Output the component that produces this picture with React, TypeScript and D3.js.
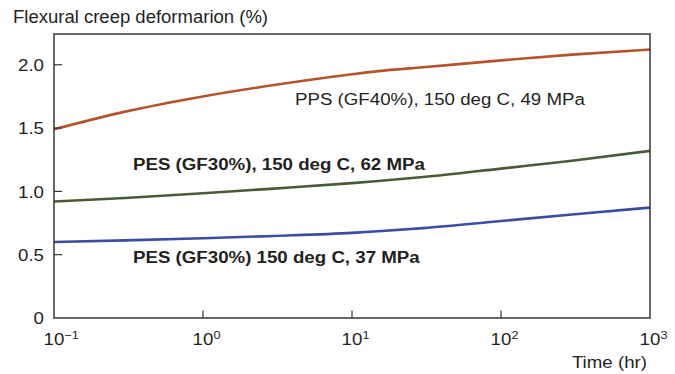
import React from "react";
import * as d3 from "d3";

// Creep test times (hr) and deformation (%) for each material
const times = [0.1, 0.3, 1, 3, 10, 15, 30, 100, 300, 1000];
const ppsValues = [1.49, 1.63, 1.75, 1.84, 1.925, 1.95, 1.98, 2.035, 2.08, 2.12];
const pes62Values = [0.92, 0.948, 0.985, 1.022, 1.065, 1.082, 1.113, 1.18, 1.242, 1.32];
const pes37Values = [0.6, 0.613, 0.63, 0.648, 0.672, 0.685, 0.71, 0.766, 0.817, 0.872];

const yTicks = [0, 0.5, 1.0, 1.5, 2.0];
const yTickLabels = ["0", "0.5", "1.0", "1.5", "2.0"];
const xTicks = [0.1, 1, 10, 100, 1000];
const xTickExponents = ["\u22121", "0", "1", "2", "3"];

const seriesLabels = [
  "PPS (GF40%), 150 deg C, 49 MPa",
  "PES (GF30%), 150 deg C, 62 MPa",
  "PES (GF30%) 150 deg C, 37 MPa",
];

const W = 675;
const H = 374;
const M = { left: 54, right: 650, top: 34, bottom: 318 };
const FONT = "'Liberation Sans', Arial, Helvetica, sans-serif";
const INK = "#231f20";
const FRAME = "#3b3332";
const FS = 17;
const SX = 1.1; // slightly wide type

type TProps = {
  x: number;
  y: number;
  anchor?: "start" | "middle" | "end";
  bold?: boolean;
  dy?: string;
  children: React.ReactNode;
};

function T({ x, y, anchor = "start", bold = false, dy, children }: TProps) {
  return (
    <text
      transform={`translate(${x},${y}) scale(${SX},1)`}
      textAnchor={anchor}
      dy={dy}
      fontSize={FS}
      fontWeight={bold ? "bold" : "normal"}
      fill={INK}
    >
      {children}
    </text>
  );
}

export default function App() {
  const x = d3.scaleLog().domain([0.1, 1000]).range([M.left, M.right]);
  const y = d3.scaleLinear().domain([0, 2.243]).range([M.bottom, M.top]);

  const line = d3
    .line<number>()
    .x((_, i) => x(times[i]))
    .y((d) => y(d))
    .curve(d3.curveMonotoneX);

  const series = [
    { values: ppsValues, color: "#b5532b" },
    { values: pes62Values, color: "#4b5a36" },
    { values: pes37Values, color: "#3c4ea3" },
  ];

  const tenHalf = (2 * 0.556 * FS * SX) / 2;

  return (
    <svg
      width={W}
      height={H}
      style={{ position: "absolute", left: 0, top: 0 }}
      fontFamily={FONT}
    >
      <rect width={W} height={H} fill="#fff" />

      <text
        x={13}
        y={23}
        fontSize={17.5}
        fill={INK}
        textLength={255}
        lengthAdjust="spacingAndGlyphs"
      >
        Flexural creep deformarion (%)
      </text>

      {series.map((s, i) => (
        <path
          key={i}
          d={line(s.values) || ""}
          fill="none"
          stroke={s.color}
          strokeWidth={2.6}
        />
      ))}

      {/* frame */}
      <rect
        x={M.left}
        y={M.top}
        width={M.right - M.left}
        height={M.bottom - M.top}
        fill="none"
        stroke={FRAME}
        strokeWidth={1.5}
      />

      {/* y axis ticks */}
      {yTicks.map((t, i) => (
        <g key={t}>
          {t > 0 && (
            <line
              x1={M.left}
              x2={M.left + 8}
              y1={y(t)}
              y2={y(t)}
              stroke={FRAME}
              strokeWidth={1.2}
            />
          )}
          <T x={44} y={y(t)} anchor="end" dy="0.36em">
            {yTickLabels[i]}
          </T>
        </g>
      ))}

      {/* x axis ticks */}
      {xTicks.map((t, i) => (
        <g key={t}>
          {i > 0 && i < xTicks.length - 1 && (
            <line
              x1={x(t)}
              x2={x(t)}
              y1={M.bottom}
              y2={M.bottom - 7.5}
              stroke={FRAME}
              strokeWidth={1.2}
            />
          )}
          <T x={x(t) - tenHalf} y={345}>
            10
            <tspan dy={-6.5} fontSize={11.5}>
              {xTickExponents[i]}
            </tspan>
          </T>
        </g>
      ))}

      <T x={647} y={368} anchor="end">
        Time (hr)
      </T>

      <T x={295} y={105}>
        {seriesLabels[0]}
      </T>
      <T x={133} y={170} bold>
        {seriesLabels[1]}
      </T>
      <T x={133} y={263} bold>
        {seriesLabels[2]}
      </T>
    </svg>
  );
}
